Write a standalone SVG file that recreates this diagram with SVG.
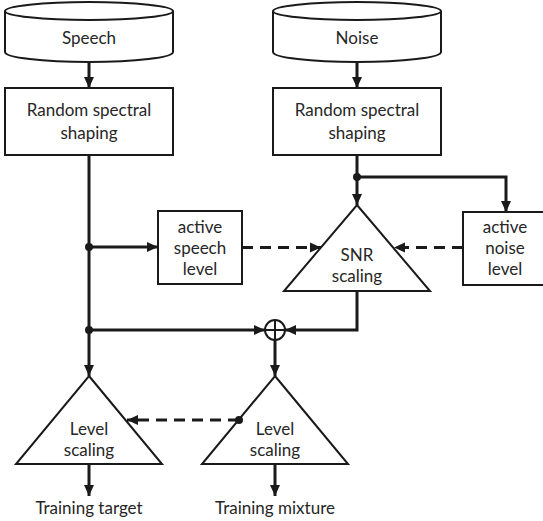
<svg xmlns="http://www.w3.org/2000/svg" width="543" height="521" viewBox="0 0 543 521">
<defs>
<style>
.shape{fill:#fff;stroke:#1a1a1a;stroke-width:2}
.wire{fill:none;stroke:#1a1a1a;stroke-width:3}
.dash{fill:none;stroke:#1a1a1a;stroke-width:3;stroke-dasharray:11 7}
.dot{fill:#1a1a1a}
text{font-family:Lato,"Open Sans","Liberation Sans",sans-serif;font-size:17px;fill:#262626;text-anchor:middle}
</style>
<marker id="ah" markerUnits="userSpaceOnUse" markerWidth="12" markerHeight="12" viewBox="0 0 12 12" refX="11" refY="6" orient="auto">
<path d="M0,1 L11,6 L0,11 Z" fill="#1a1a1a"/>
</marker>
</defs>
<rect width="543" height="521" fill="#fff"/>

<g id="speech-db">
<path class="shape" d="M5,11 L5,52 A84,10 0 0 0 173,52 L173,11"/>
<ellipse class="shape" cx="89" cy="11" rx="84" ry="9"/>
<text x="89" y="44">Speech</text>
</g>
<g id="noise-db">
<path class="shape" d="M273,11 L273,52 A84,10 0 0 0 441,52 L441,11"/>
<ellipse class="shape" cx="357" cy="11" rx="84" ry="9"/>
<text x="357" y="44">Noise</text>
</g>
<g id="speech-shaping">
<rect class="shape" x="5" y="88" width="168" height="67"/>
<text x="89" y="116">Random spectral</text>
<text x="89" y="139">shaping</text>
</g>
<g id="noise-shaping">
<rect class="shape" x="273" y="88" width="168" height="67"/>
<text x="357" y="116">Random spectral</text>
<text x="357" y="139">shaping</text>
</g>
<g id="speech-level">
<rect class="shape" x="158" y="211" width="84" height="73"/>
<text x="200" y="233">active</text>
<text x="200" y="254">speech</text>
<text x="200" y="275">level</text>
</g>
<g id="noise-level">
<rect class="shape" x="463" y="212" width="90" height="73"/>
<text x="505" y="233">active</text>
<text x="505" y="254">noise</text>
<text x="505" y="275">level</text>
</g>
<g id="snr-scaling">
<path class="shape" d="M357,205 L430,291 L284,291 Z"/>
<text x="357" y="261">SNR</text>
<text x="357" y="282">scaling</text>
</g>
<g id="sum">
<circle class="shape" cx="275" cy="330" r="10"/>
<path class="wire" style="stroke-width:2" d="M265,330 H285 M275,320 V340"/>
</g>
<g id="level-target">
<path class="shape" d="M89,376 L162,464 L16,464 Z"/>
<text x="89" y="435">Level</text>
<text x="89" y="456">scaling</text>
</g>
<g id="level-mixture">
<path class="shape" d="M275,376 L348,464 L202,464 Z"/>
<text x="275" y="435">Level</text>
<text x="275" y="456">scaling</text>
</g>
<g id="labels">
<text x="89" y="514">Training target</text>
<text x="275" y="514">Training mixture</text>
</g>

<g id="connectors">
<line class="wire" x1="89" y1="62" x2="89" y2="88" marker-end="url(#ah)"/>
<line class="wire" x1="357" y1="62" x2="357" y2="88" marker-end="url(#ah)"/>
<line class="wire" x1="89" y1="155" x2="89" y2="376" marker-end="url(#ah)"/>
<line class="wire" x1="89" y1="247" x2="158" y2="247" marker-end="url(#ah)"/>
<line class="wire" x1="89" y1="330" x2="265" y2="330" marker-end="url(#ah)"/>
<line class="wire" x1="357" y1="155" x2="357" y2="205" marker-end="url(#ah)"/>
<polyline class="wire" points="357,177 506,177 506,212" marker-end="url(#ah)"/>
<line class="dash" x1="242" y1="247.5" x2="321" y2="247.5" marker-end="url(#ah)"/>
<line class="dash" x1="463" y1="247.5" x2="394" y2="247.5" marker-end="url(#ah)"/>
<polyline class="wire" points="357,291 357,330 285,330" marker-end="url(#ah)"/>
<line class="wire" x1="275" y1="340" x2="275" y2="376" marker-end="url(#ah)"/>
<line class="dash" x1="239" y1="420" x2="127" y2="420" marker-end="url(#ah)"/>
<line class="wire" x1="89" y1="464" x2="89" y2="496" marker-end="url(#ah)"/>
<line class="wire" x1="275" y1="464" x2="275" y2="496" marker-end="url(#ah)"/>
<circle class="dot" cx="89" cy="247" r="4"/>
<circle class="dot" cx="89" cy="330" r="4"/>
<circle class="dot" cx="357" cy="177" r="4"/>
<circle class="dot" cx="239" cy="420" r="4"/>
</g>
</svg>
